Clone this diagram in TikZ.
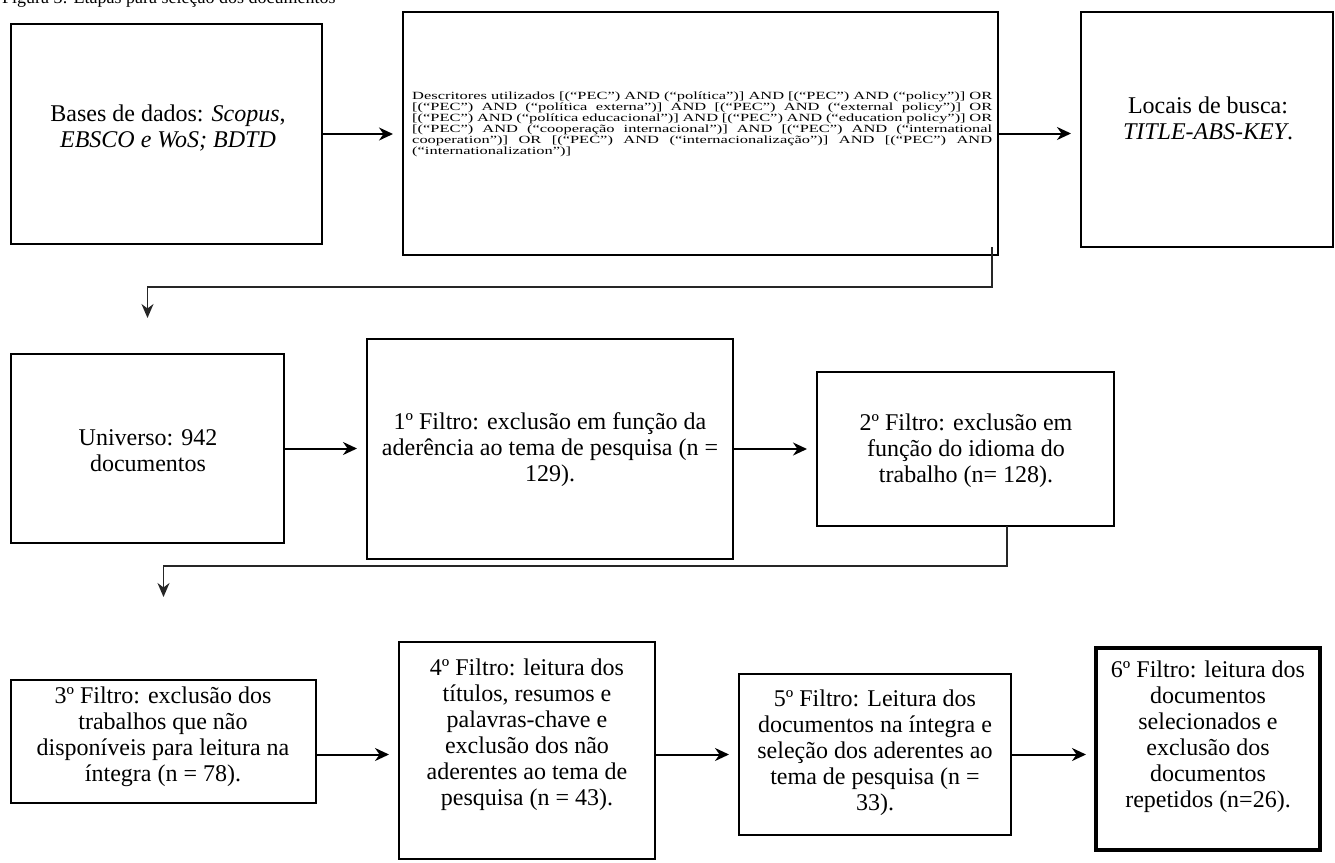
\documentclass[tikz,border=0pt]{standalone}
\usepackage{fontspec}
\setmainfont{Liberation Serif}
\newfontfamily\wideserif[FakeStretch=1.494]{Liberation Serif}
\usetikzlibrary{arrows.meta,calc}
\begin{document}
\begin{tikzpicture}[x=1pt,y=-1pt,
  box/.style={draw=black, line width=2.6pt, anchor=north west, inner sep=0pt, outer sep=0pt},
  thickbox/.style={box, line width=4.6pt},
  txt/.style={align=center, inner sep=0pt, font=\fontsize{24}{26}\selectfont},
  arr/.style={line width=2pt, -{Stealth[length=14pt,width=13pt,inset=4.5pt]}, shorten >=10pt},
  elb/.style={line width=1.6pt, draw=black!85, -{Stealth[length=14pt,width=12pt,inset=4.5pt]}}]
\useasboundingbox (0,0) rectangle (1335,862);

% title (cut off at the top, as in the reference)
\node[anchor=base west, inner sep=0pt, font=\fontsize{18}{20}\selectfont] (title) at (2,4) {Figura 3: Etapas para seleção dos documentos};

% boxes
\node[box, minimum width=311pt, minimum height=220pt] (A) at (11,24) {};
\node[box, minimum width=595pt, minimum height=243pt] (B) at (403,12) {};
\node[box, minimum width=252pt, minimum height=235pt] (C) at (1081,12) {};
\node[box, minimum width=273pt, minimum height=189pt] (D) at (11,354) {};
\node[box, minimum width=366pt, minimum height=220pt] (E) at (367,339) {};
\node[box, minimum width=297pt, minimum height=154pt] (F) at (817,372) {};
\node[box, minimum width=305pt, minimum height=123pt] (G) at (11,680) {};
\node[box, minimum width=256pt, minimum height=217pt] (H) at (399,642) {};
\node[box, minimum width=272pt, minimum height=161pt] (I) at (739,674) {};
\node[thickbox, minimum width=224pt, minimum height=202pt] (J) at (1096,648) {};

% texts
\node[txt] (tA) at (168,128) {Bases de dados: \textit{Scopus},\\ \textit{EBSCO e WoS; BDTD}};
\node[anchor=north west, inner sep=0pt] (tB) at (412,92)
 {\parbox{580pt}{\wideserif\fontsize{11}{10.9}\selectfont\tolerance=10000 Descritores utilizados [(“PEC”) AND (“política”)] AND [(“PEC”) AND (“policy”)] OR\linebreak[4][(“PEC”) AND (“política externa”)] AND [(“PEC”) AND (“external policy”)] OR\linebreak[4][(“PEC”) AND (“política educacional”)] AND [(“PEC”) AND (“education policy”)] OR\linebreak[4][(“PEC”) AND (“cooperação internacional”)] AND [(“PEC”) AND (“international\linebreak[4]cooperation”)] OR [(“PEC”) AND (“internacionalização”)] AND [(“PEC”) AND\linebreak[4](“internationalization”)]}};
\node[txt] (tC) at (1208,118) {Locais de busca:\\ \textit{TITLE-ABS-KEY}.};
\node[txt] (tD) at (148,451) {Universo: 942\\ documentos};
\node[txt] (tE) at (550,450) {1º Filtro: exclusão em função da\\ aderência ao tema de pesquisa (n =\\ 129).};
\node[txt] (tF) at (966,451) {2º Filtro: exclusão em\\ função do idioma do\\ trabalho (n= 128).};
\node[txt] (tG) at (163,737) {3º Filtro: exclusão dos\\ trabalhos que não\\ disponíveis para leitura na\\ íntegra (n = 78).};
\node[txt] (tH) at (527,735) {4º Filtro: leitura dos\\ títulos, resumos e\\ palavras-chave e\\ exclusão dos não\\ aderentes ao tema de\\ pesquisa (n = 43).};
\node[txt] (tI) at (875,753) {5º Filtro: Leitura dos\\ documentos na íntegra e\\ seleção dos aderentes ao\\ tema de pesquisa (n =\\ 33).};
\node[txt] (tJ) at (1208,737) {6º Filtro: leitura dos\\ documentos\\ selecionados e\\ exclusão dos\\ documentos\\ repetidos (n=26).};

% straight arrows
\draw[arr] (A.east) -- (A.east -| B.west);
\draw[arr] (B.east) -- (B.east -| C.west);
\draw[arr] (D.east) -- (D.east -| E.west);
\draw[arr] (E.east) -- (E.east -| F.west);
\draw[arr] (G.east |- I.west) -- (H.west |- I.west);
\draw[arr] (H.east |- I.west) -- (I.west);
\draw[arr] (I.east) -- (I.east -| J.west);

% elbow connectors
\coordinate (s1) at ($(B.south east)+(-6,-8)$);
\coordinate (e1) at ($(D.north)+(0,-36)$);
\draw[elb] (s1) -- ++(0,40) -| (e1);
\coordinate (s2) at ($(F.south)+(41.5,0)$);
\coordinate (e2) at ($(G.north)+(0,-83)$);
\draw[elb] (s2) -- ++(0,40) -| (e2);
\end{tikzpicture}
\end{document}
